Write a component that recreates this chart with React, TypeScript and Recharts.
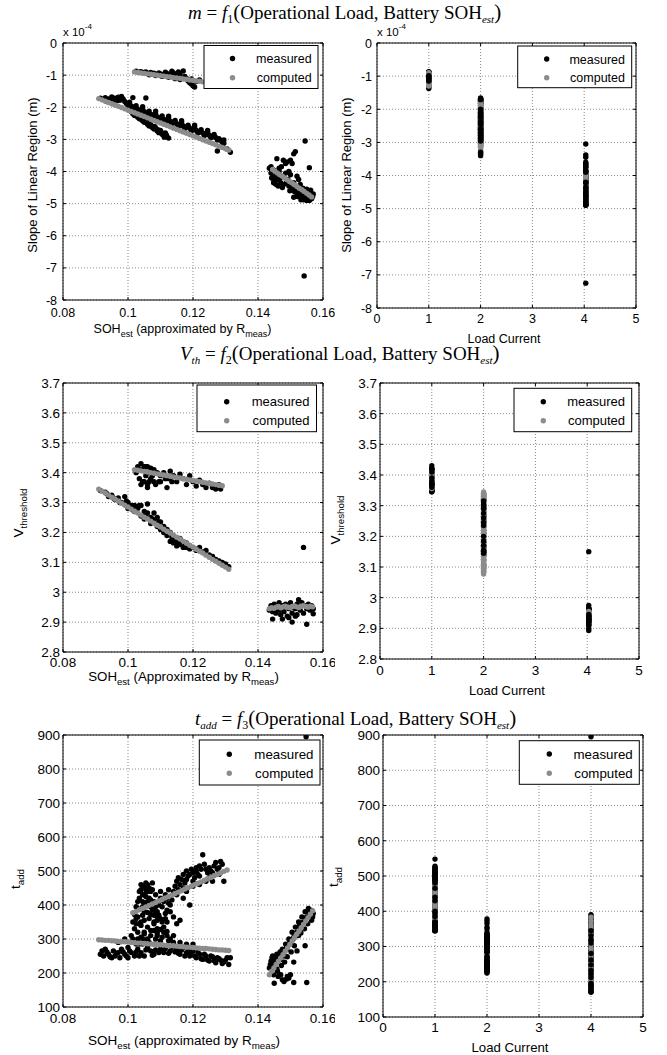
import React from "react";
import { CartesianGrid, ReferenceArea, Scatter, ScatterChart, XAxis, YAxis } from "recharts";

type Pt = [number, number];

const BLACK = "#000000";
const GRAY = "#8c8c8c";

// ---- shared axes ----
const sohTicks = [0.08, 0.1, 0.12, 0.14, 0.16];
const loadTicks = [0, 1, 2, 3, 4, 5];
const slopeTicks = [-8, -7, -6, -5, -4, -3, -2, -1, 0];
const vthTicks = [2.8, 2.9, 3, 3.1, 3.2, 3.3, 3.4, 3.5, 3.6, 3.7];
const taddTicks = [100, 200, 300, 400, 500, 600, 700, 800, 900];

// load current of each cluster (right column)
const loadsTop = [1, 2, 4.03];
const loadsBottom = [1, 2, 4];

// ---- row 1 : slope of linear region m (x 1e-4) vs SOH ----
const slopeMeas1: Pt[] = [
  [0.1025, -0.88], [0.1035, -0.91], [0.104, -0.89], [0.105, -0.92], [0.1055, -0.9], [0.106, -0.94],
  [0.107, -0.92], [0.1075, -0.96], [0.108, -0.94], [0.109, -0.97], [0.1095, -0.93], [0.11, -0.96],
  [0.111, -0.98], [0.1115, -0.91], [0.112, -0.95], [0.113, -0.99], [0.1135, -0.88], [0.114, -0.93],
  [0.115, -1.01], [0.1155, -0.9], [0.116, -0.97], [0.117, -0.87], [0.1175, -1.04], [0.118, -1.1],
  [0.1185, -1.18], [0.119, -1.24], [0.1195, -1.28], [0.12, -1.33], [0.1205, -1.37], [0.1195, -1.12],
  [0.121, -1.2], [0.122, -1.15], [0.1065, -0.99], [0.1085, -1.01], [0.1105, -1.04], [0.1125, -1.07],
  [0.1145, -1.11], [0.116, -1.14],
];
const slopeComp1: Pt[] = [
  [0.102, -0.9], [0.103, -0.92], [0.104, -0.93], [0.105, -0.95], [0.106, -0.96], [0.107, -0.97],
  [0.108, -0.99], [0.109, -1.0], [0.11, -1.02], [0.111, -1.03], [0.112, -1.05], [0.113, -1.06],
  [0.114, -1.08], [0.115, -1.09], [0.116, -1.1], [0.117, -1.12], [0.118, -1.13], [0.119, -1.15],
  [0.12, -1.16], [0.121, -1.18], [0.122, -1.19], [0.123, -1.21], [0.124, -1.22], [0.125, -1.24],
  [0.126, -1.25], [0.127, -1.27], [0.128, -1.28], [0.129, -1.3],
];
const slopeMeas2: Pt[] = [
  [0.0915, -1.72], [0.0925, -1.75], [0.093, -1.7], [0.094, -1.74], [0.095, -1.68], [0.0955, -1.76],
  [0.096, -1.72], [0.097, -1.69], [0.0975, -1.78], [0.098, -1.66], [0.0985, -1.74], [0.099, -1.82],
  [0.1, -1.9], [0.1005, -1.84], [0.101, -1.96], [0.102, -2.02], [0.1025, -1.95], [0.103, -2.06],
  [0.104, -2.1], [0.1045, -2.04], [0.105, -2.14], [0.106, -2.18], [0.1065, -2.12], [0.107, -2.22],
  [0.108, -2.25], [0.1085, -2.2], [0.109, -2.3], [0.11, -2.33], [0.1105, -2.27], [0.111, -2.37],
  [0.112, -2.4], [0.1125, -2.34], [0.113, -2.44], [0.114, -2.46], [0.1145, -2.41], [0.115, -2.51],
  [0.116, -2.54], [0.1165, -2.48], [0.117, -2.58], [0.118, -2.61], [0.1185, -2.56], [0.119, -2.65],
  [0.12, -2.68], [0.1205, -2.63], [0.121, -2.72], [0.122, -2.76], [0.1225, -2.7], [0.123, -2.8],
  [0.124, -2.83], [0.1245, -2.78], [0.125, -2.87], [0.126, -2.9], [0.1265, -2.85], [0.127, -2.94],
  [0.128, -2.98], [0.1285, -3.03], [0.129, -3.08], [0.1295, -3.02],
  [0.0935, -1.82], [0.0965, -1.8], [0.0995, -1.88], [0.1015, -2.0], [0.1035, -2.14], [0.1055, -2.24],
  [0.1075, -2.3], [0.1095, -2.38], [0.1115, -2.45], [0.1135, -2.52], [0.1155, -2.6], [0.1175, -2.66],
  [0.1195, -2.74], [0.1215, -2.8], [0.1235, -2.88], [0.1255, -2.95], [0.1275, -3.02], [0.1295, -3.12],
  [0.1045, -1.98], [0.1085, -2.12], [0.1125, -2.28], [0.1165, -2.42], [0.1205, -2.56], [0.1245, -2.72],
  [0.1005, -2.08], [0.101, -2.14], [0.1015, -2.2], [0.102, -2.26], [0.1025, -2.22], [0.103, -2.31],
  [0.1035, -2.36], [0.104, -2.32], [0.1045, -2.42], [0.105, -2.47], [0.1055, -2.43], [0.106, -2.53],
  [0.1065, -2.58], [0.107, -2.54], [0.1075, -2.63], [0.108, -2.68], [0.1085, -2.64], [0.109, -2.74],
  [0.1095, -2.79], [0.11, -2.72], [0.1105, -2.84], [0.111, -2.88], [0.1115, -2.8], [0.112, -2.92],
  [0.1125, -2.96], [0.1, -2.0], [0.1012, -2.1], [0.1022, -2.18], [0.1032, -2.26], [0.1042, -2.38],
  [0.1052, -2.38], [0.1062, -2.47], [0.1072, -2.6], [0.1082, -2.6], [0.1092, -2.7], [0.1102, -2.78],
  [0.1112, -2.93], [0.1118, -2.86],
  [0.1015, -1.7], [0.1055, -1.71], [0.1275, -3.36], [0.1315, -3.4], [0.1305, -3.3],
];
const slopeComp2: Pt[] = [
  [0.091, -1.73], [0.092, -1.77], [0.093, -1.81], [0.094, -1.85], [0.095, -1.89], [0.096, -1.93],
  [0.097, -1.97], [0.098, -2.01], [0.099, -2.05], [0.1, -2.09], [0.101, -2.13], [0.102, -2.17],
  [0.103, -2.21], [0.104, -2.25], [0.105, -2.29], [0.106, -2.33], [0.107, -2.37], [0.108, -2.41],
  [0.109, -2.45], [0.11, -2.49], [0.111, -2.53], [0.112, -2.57], [0.113, -2.61], [0.114, -2.65],
  [0.115, -2.69], [0.116, -2.73], [0.117, -2.77], [0.118, -2.81], [0.119, -2.85], [0.12, -2.89],
  [0.121, -2.93], [0.122, -2.97], [0.123, -3.01], [0.124, -3.05], [0.125, -3.09], [0.126, -3.13],
  [0.127, -3.17], [0.128, -3.21], [0.129, -3.25], [0.13, -3.29], [0.131, -3.33],
];
const slopeMeas4: Pt[] = [
  [0.1435, -3.9], [0.144, -4.05], [0.1442, -4.2], [0.1448, -3.95], [0.145, -4.3], [0.1455, -4.1],
  [0.1458, -3.6], [0.146, -4.25], [0.1465, -4.0], [0.147, -4.35], [0.1472, -3.85], [0.1478, -4.15],
  [0.148, -4.4], [0.1485, -3.75], [0.149, -3.7], [0.1492, -4.25], [0.1495, -4.45], [0.15, -3.65],
  [0.15, -4.1], [0.1505, -4.55], [0.151, -3.45], [0.151, -4.35], [0.1515, -3.38], [0.1515, -4.6],
  [0.152, -4.15], [0.152, -4.7], [0.1525, -4.5], [0.153, -4.75], [0.153, -4.4], [0.1535, -4.85],
  [0.154, -4.6], [0.154, -4.88], [0.1545, -4.7], [0.155, -4.9], [0.155, -4.55], [0.1555, -4.8],
  [0.156, -4.75], [0.156, -4.65], [0.1565, -4.85], [0.157, -4.7], [0.1545, -3.05], [0.1558, -3.88],
  [0.1542, -7.25], [0.1505, -3.75], [0.1485, -4.05], [0.1462, -4.45], [0.1448, -4.35], [0.1525, -4.25],
  [0.153, -4.6], [0.1538, -4.72], [0.1552, -4.68], [0.1562, -4.58], [0.1495, -4.0], [0.151, -4.8],
  [0.1478, -3.65], [0.1445, -4.18],
  [0.1505, -4.45], [0.1512, -4.62], [0.1518, -4.5], [0.1522, -4.78], [0.1528, -4.65], [0.1532, -4.88],
  [0.1538, -4.52], [0.1548, -4.82], [0.1553, -4.62], [0.1558, -4.9], [0.1563, -4.7], [0.1568, -4.78],
  [0.1455, -4.4], [0.1468, -4.2], [0.1475, -4.5], [0.1488, -4.35], [0.1498, -4.6], [0.144, -3.85],
  [0.1452, -4.22], [0.1465, -3.9],
];
const slopeComp4: Pt[] = [
  [0.1445, -3.94], [0.1452, -3.99], [0.146, -4.05], [0.1467, -4.1], [0.1475, -4.15], [0.1482, -4.2],
  [0.149, -4.26], [0.1497, -4.31], [0.1505, -4.36], [0.1512, -4.41], [0.152, -4.47], [0.1527, -4.52],
  [0.1535, -4.57], [0.1542, -4.62], [0.155, -4.68], [0.1557, -4.73], [0.1565, -4.79],
];

// ---- row 2 : V threshold vs SOH ----
const vthMeas1: Pt[] = [
  [0.1025, 3.4], [0.103, 3.42], [0.1035, 3.38], [0.104, 3.43], [0.104, 3.36], [0.1045, 3.41],
  [0.105, 3.42], [0.105, 3.37], [0.1055, 3.39], [0.106, 3.42], [0.106, 3.36], [0.1065, 3.4],
  [0.107, 3.415], [0.107, 3.38], [0.108, 3.41], [0.108, 3.37], [0.109, 3.4], [0.11, 3.39],
  [0.11, 3.37], [0.111, 3.4], [0.112, 3.35], [0.1125, 3.38], [0.113, 3.405], [0.114, 3.39],
  [0.115, 3.37], [0.116, 3.395], [0.117, 3.38], [0.118, 3.36], [0.119, 3.39], [0.12, 3.37],
  [0.121, 3.355], [0.122, 3.375], [0.123, 3.36], [0.124, 3.35], [0.125, 3.365], [0.126, 3.35],
  [0.127, 3.345], [0.128, 3.36], [0.1285, 3.345], [0.106, 3.35], [0.1085, 3.36],
  [0.1035, 3.41], [0.1045, 3.37], [0.1055, 3.42], [0.1065, 3.37], [0.1075, 3.39], [0.1095, 3.37],
  [0.1115, 3.38], [0.1135, 3.37],
];
const vthComp1: Pt[] = [
  [0.102, 3.41], [0.103, 3.408], [0.104, 3.406], [0.105, 3.404], [0.106, 3.402], [0.107, 3.4],
  [0.108, 3.398], [0.109, 3.396], [0.11, 3.394], [0.111, 3.392], [0.112, 3.39], [0.113, 3.388],
  [0.114, 3.386], [0.115, 3.384], [0.116, 3.382], [0.117, 3.38], [0.118, 3.378], [0.119, 3.376],
  [0.12, 3.374], [0.121, 3.372], [0.122, 3.37], [0.123, 3.368], [0.124, 3.366], [0.125, 3.364],
  [0.126, 3.362], [0.127, 3.36], [0.128, 3.358], [0.129, 3.356],
];
const vthMeas2: Pt[] = [
  [0.0915, 3.34], [0.093, 3.335], [0.094, 3.32], [0.095, 3.325], [0.096, 3.31], [0.097, 3.315],
  [0.098, 3.3], [0.099, 3.32], [0.1, 3.3], [0.1, 3.28], [0.101, 3.29], [0.102, 3.27],
  [0.102, 3.29], [0.103, 3.28], [0.104, 3.255], [0.104, 3.29], [0.105, 3.27], [0.105, 3.245],
  [0.106, 3.265], [0.106, 3.295], [0.107, 3.25], [0.107, 3.23], [0.108, 3.24], [0.108, 3.265],
  [0.109, 3.22], [0.109, 3.25], [0.11, 3.235], [0.11, 3.21], [0.111, 3.22], [0.111, 3.2],
  [0.112, 3.21], [0.112, 3.19], [0.113, 3.2], [0.113, 3.17], [0.114, 3.18], [0.114, 3.165],
  [0.115, 3.17], [0.115, 3.155], [0.116, 3.16], [0.116, 3.18], [0.117, 3.15], [0.118, 3.15],
  [0.118, 3.165], [0.119, 3.145], [0.12, 3.15], [0.121, 3.14], [0.122, 3.15], [0.123, 3.135],
  [0.124, 3.14], [0.125, 3.125], [0.126, 3.12], [0.127, 3.11], [0.128, 3.105], [0.129, 3.1],
  [0.13, 3.095], [0.131, 3.085],
  [0.0935, 3.33], [0.0955, 3.315], [0.0975, 3.3], [0.0995, 3.305], [0.1015, 3.275], [0.1035, 3.29],
  [0.1055, 3.26], [0.1075, 3.245], [0.1095, 3.235], [0.1115, 3.2], [0.1135, 3.185], [0.1155, 3.17],
  [0.1175, 3.155], [0.1195, 3.15], [0.1215, 3.145],
];
const vthComp2: Pt[] = [
  [0.091, 3.345], [0.092, 3.338], [0.093, 3.332], [0.094, 3.325], [0.095, 3.318], [0.096, 3.312],
  [0.097, 3.305], [0.098, 3.298], [0.099, 3.291], [0.1, 3.285], [0.101, 3.278], [0.102, 3.271],
  [0.103, 3.265], [0.104, 3.258], [0.105, 3.251], [0.106, 3.245], [0.107, 3.238], [0.108, 3.231],
  [0.109, 3.224], [0.11, 3.218], [0.111, 3.211], [0.112, 3.204], [0.113, 3.198], [0.114, 3.191],
  [0.115, 3.184], [0.116, 3.178], [0.117, 3.171], [0.118, 3.164], [0.119, 3.157], [0.12, 3.151],
  [0.121, 3.144], [0.122, 3.137], [0.123, 3.131], [0.124, 3.124], [0.125, 3.117], [0.126, 3.11],
  [0.127, 3.104], [0.128, 3.097], [0.129, 3.09], [0.13, 3.084], [0.131, 3.077],
];
const vthMeas4: Pt[] = [
  [0.1435, 2.94], [0.144, 2.955], [0.1445, 2.935], [0.145, 2.96], [0.1455, 2.93], [0.146, 2.945],
  [0.1465, 2.965], [0.147, 2.925], [0.1475, 2.955], [0.148, 2.935], [0.1485, 2.96], [0.149, 2.92],
  [0.1495, 2.945], [0.15, 2.965], [0.1505, 2.93], [0.151, 2.95], [0.1515, 2.92], [0.152, 2.96],
  [0.1525, 2.975], [0.153, 2.94], [0.1535, 2.965], [0.154, 2.93], [0.1545, 2.955], [0.155, 2.945],
  [0.1555, 2.96], [0.156, 2.94], [0.1565, 2.955], [0.157, 2.945], [0.1445, 2.91], [0.1475, 2.91],
  [0.1505, 2.9], [0.155, 2.893], [0.157, 2.928], [0.154, 3.15], [0.1495, 2.915], [0.152, 2.925],
  [0.1465, 2.94], [0.1515, 2.945],
];
const vthComp4: Pt[] = [
  [0.1435, 2.945], [0.1442, 2.948], [0.1449, 2.946], [0.1456, 2.95], [0.1463, 2.952], [0.147, 2.948],
  [0.1477, 2.951], [0.1484, 2.953], [0.1491, 2.95], [0.1498, 2.948], [0.1505, 2.952], [0.1512, 2.954],
  [0.1519, 2.951], [0.1526, 2.949], [0.1533, 2.953], [0.154, 2.955], [0.1547, 2.952], [0.1554, 2.95],
  [0.1561, 2.953], [0.1568, 2.951],
];

// ---- row 3 : t_add vs SOH ----
const taddMeas1: Pt[] = [
  [0.1025, 360], [0.103, 390], [0.1035, 420], [0.104, 445], [0.1045, 430], [0.105, 455],
  [0.1055, 465], [0.106, 460], [0.1065, 450], [0.107, 440], [0.1075, 465], [0.104, 350],
  [0.105, 380], [0.106, 410], [0.107, 395], [0.108, 370], [0.108, 345], [0.109, 380],
  [0.11, 360], [0.112, 350], [0.1105, 395], [0.111, 410], [0.112, 420], [0.113, 400],
  [0.114, 440], [0.115, 430], [0.116, 460], [0.117, 450], [0.118, 475], [0.119, 490],
  [0.12, 470], [0.121, 500], [0.122, 485], [0.123, 548], [0.1235, 520], [0.124, 505],
  [0.125, 480], [0.126, 495], [0.127, 525], [0.128, 510], [0.129, 520], [0.1295, 470],
  [0.115, 345], [0.116, 355], [0.119, 400], [0.113, 380], [0.114, 365], [0.117, 420],
  [0.118, 440], [0.12, 455], [0.122, 460], [0.124, 470], [0.11, 420], [0.1085, 430],
  [0.1125, 445], [0.1155, 480], [0.118, 500], [0.121, 510], [0.1035, 345], [0.1045, 395],
  [0.1055, 425], [0.1065, 400], [0.1095, 400], [0.1115, 375], [0.125, 510], [0.126, 470],
  [0.128, 490],
  [0.1015, 350], [0.102, 372], [0.1025, 395], [0.103, 410], [0.1035, 440], [0.104, 460],
  [0.1045, 410], [0.105, 430], [0.1055, 445], [0.106, 440], [0.1065, 420], [0.107, 415],
  [0.1075, 445], [0.108, 390], [0.108, 410], [0.1085, 375], [0.109, 355], [0.1095, 370],
  [0.1105, 350], [0.1115, 360], [0.112, 385], [0.1125, 405], [0.113, 425], [0.1135, 415],
  [0.1145, 455], [0.115, 470], [0.1155, 445], [0.1165, 475], [0.117, 490], [0.1175, 465],
  [0.1185, 485], [0.1195, 505], [0.12, 495], [0.1205, 480], [0.1215, 490], [0.122, 515],
  [0.1225, 505], [0.1245, 495], [0.1255, 500], [0.1275, 505], [0.1285, 528], [0.1265, 515],
  [0.1025, 345], [0.1045, 370], [0.1065, 360], [0.1085, 395], [0.1055, 400], [0.103, 365],
  [0.1075, 385], [0.11, 440], [0.1115, 430],
];
const taddComp1: Pt[] = [
  [0.1015, 377], [0.1025, 381], [0.1035, 386], [0.1045, 390], [0.1055, 394], [0.1065, 399],
  [0.1075, 403], [0.1085, 407], [0.1095, 412], [0.1105, 416], [0.1115, 421], [0.1125, 425],
  [0.1135, 429], [0.1145, 434], [0.1155, 438], [0.1165, 442], [0.1175, 447], [0.1185, 451],
  [0.1195, 455], [0.1205, 460], [0.1215, 464], [0.1225, 468], [0.1235, 473], [0.1245, 477],
  [0.1255, 481], [0.1265, 486], [0.1275, 490], [0.1285, 494], [0.1295, 499], [0.1305, 503],
];
const taddMeas2: Pt[] = [
  [0.092, 265], [0.0925, 250], [0.093, 270], [0.094, 255], [0.095, 245], [0.0955, 265],
  [0.096, 250], [0.097, 260], [0.0975, 245], [0.098, 270], [0.099, 255], [0.1, 245],
  [0.1, 275], [0.101, 260], [0.1015, 290], [0.102, 250], [0.103, 270], [0.103, 300],
  [0.104, 260], [0.1045, 285], [0.105, 250], [0.106, 275], [0.106, 300], [0.107, 265],
  [0.108, 285], [0.108, 255], [0.109, 310], [0.11, 270], [0.11, 295], [0.111, 260],
  [0.112, 280], [0.112, 310], [0.113, 265], [0.114, 290], [0.115, 270], [0.116, 255],
  [0.117, 275], [0.118, 260], [0.119, 250], [0.12, 265], [0.121, 245], [0.122, 255],
  [0.123, 240], [0.124, 250], [0.125, 235], [0.126, 248], [0.127, 230], [0.128, 242],
  [0.129, 228], [0.13, 238], [0.131, 225], [0.1315, 245], [0.097, 290], [0.099, 300],
  [0.101, 310], [0.105, 320], [0.107, 325], [0.109, 330], [0.111, 320], [0.113, 300],
  [0.114, 310], [0.116, 290], [0.118, 285], [0.12, 285], [0.1015, 300], [0.102, 330],
  [0.103, 320], [0.104, 305], [0.105, 315], [0.106, 335], [0.107, 310], [0.108, 325],
  [0.109, 318], [0.11, 328], [0.111, 335], [0.112, 322], [0.104, 340], [0.105, 355],
  [0.107, 372], [0.109, 365], [0.106, 378], [0.108, 350],
  [0.0915, 255], [0.0935, 262], [0.0945, 248], [0.0965, 258], [0.0985, 262], [0.0995, 250],
  [0.1005, 265], [0.1025, 262], [0.1035, 250], [0.1055, 268], [0.1075, 252], [0.1085, 268],
  [0.1095, 260], [0.1115, 272], [0.1125, 258], [0.1135, 275], [0.1145, 262], [0.1155, 258],
  [0.1165, 268], [0.1175, 250], [0.1185, 272], [0.1195, 262], [0.1205, 250], [0.1215, 262],
  [0.1225, 242], [0.1235, 255], [0.1245, 238], [0.1255, 250], [0.1265, 236], [0.1275, 245],
  [0.1285, 238], [0.1295, 232], [0.1305, 245], [0.1025, 285], [0.1045, 300], [0.1065, 290],
  [0.1085, 300], [0.1105, 305], [0.1125, 295], [0.1055, 295], [0.1035, 285], [0.1095, 285],
];
const taddComp2: Pt[] = [
  [0.091, 298], [0.092, 297], [0.093, 296], [0.094, 296], [0.095, 295], [0.096, 294],
  [0.097, 293], [0.098, 292], [0.099, 292], [0.1, 291], [0.101, 290], [0.102, 289],
  [0.103, 288], [0.104, 288], [0.105, 287], [0.106, 286], [0.107, 285], [0.108, 284],
  [0.109, 284], [0.11, 283], [0.111, 282], [0.112, 281], [0.113, 280], [0.114, 280],
  [0.115, 279], [0.116, 278], [0.117, 277], [0.118, 276], [0.119, 276], [0.12, 275],
  [0.121, 274], [0.122, 273], [0.123, 272], [0.124, 272], [0.125, 271], [0.126, 270],
  [0.127, 269], [0.128, 268], [0.129, 268], [0.13, 267], [0.131, 266],
];
const taddMeas4: Pt[] = [
  [0.1435, 215], [0.144, 235], [0.1445, 250], [0.145, 225], [0.1455, 245], [0.146, 205],
  [0.1465, 255], [0.147, 240], [0.1475, 270], [0.148, 250], [0.1485, 285], [0.149, 270],
  [0.1495, 300], [0.15, 285], [0.1505, 320], [0.151, 305], [0.1515, 335], [0.152, 320],
  [0.1525, 350], [0.153, 335], [0.1535, 365], [0.154, 350], [0.1545, 380], [0.155, 365],
  [0.1555, 390], [0.156, 370], [0.1565, 355], [0.157, 375], [0.145, 170], [0.147, 195],
  [0.148, 175], [0.149, 190], [0.1495, 185], [0.15, 195], [0.151, 172], [0.155, 172],
  [0.1545, 280], [0.151, 232], [0.152, 265], [0.1548, 895],
  [0.1438, 225], [0.1443, 245], [0.1452, 238], [0.1458, 255], [0.1468, 262], [0.1478, 258],
  [0.1488, 275], [0.1498, 292], [0.1508, 300], [0.1518, 318], [0.1528, 340], [0.1538, 348],
  [0.1548, 362], [0.1558, 378], [0.1563, 385], [0.1568, 365], [0.1458, 212], [0.1472, 222],
  [0.1482, 232], [0.149, 248], [0.1502, 262], [0.1512, 280], [0.1525, 310], [0.1532, 318],
  [0.1543, 330], [0.1553, 345], [0.1448, 195], [0.1462, 190], [0.1475, 180], [0.1488, 182],
];
const taddComp4: Pt[] = [
  [0.1435, 195], [0.1442, 205], [0.1449, 215], [0.1456, 225], [0.1463, 235], [0.147, 244],
  [0.1477, 254], [0.1484, 264], [0.1491, 274], [0.1498, 284], [0.1505, 294], [0.1512, 304],
  [0.1519, 314], [0.1526, 323], [0.1533, 333], [0.154, 343], [0.1547, 353], [0.1554, 363],
  [0.1561, 373], [0.1568, 383],
];

type Datum = { x: number; y: number; c: string };

const bySoh = (pts: Pt[], c: string): Datum[] => pts.map(([x, y]) => ({ x, y, c }));

// right column: same samples against load current; computed drawn after most of
// the measured samples so both stay visible
function byLoad(meas: Pt[][], comp: Pt[][], loads: number[]): Datum[] {
  const out: Datum[] = [];
  loads.forEach((load, k) => {
    const m = meas[k];
    const cut = Math.ceil(m.length * 0.8);
    m.slice(0, cut).forEach((p) => out.push({ x: load, y: p[1], c: BLACK }));
    comp[k].forEach((p) => out.push({ x: load, y: p[1], c: GRAY }));
    m.slice(cut).forEach((p) => out.push({ x: load, y: p[1], c: BLACK }));
  });
  return out;
}

const SERIF = '"Liberation Serif", "Times New Roman", serif';
const SANS = '"Liberation Sans", Arial, sans-serif';

function XTick(props: any) {
  const { x, y, payload, ph, font, gap } = props;
  return (
    <g>
      <line x1={x} x2={x} y1={y} y2={y - 3} stroke="#000" />
      <line x1={x} x2={x} y1={y - ph} y2={y - ph + 3} stroke="#000" />
      <text x={x} y={y + gap} dy="0.71em" textAnchor="middle" fontSize={font} fontFamily={SANS} fill="#000">
        {String(payload.value)}
      </text>
    </g>
  );
}

function YTick(props: any) {
  const { x, y, payload, pw, font, gap } = props;
  return (
    <g>
      <line x1={x} x2={x + 3} y1={y} y2={y} stroke="#000" />
      <line x1={x + pw} x2={x + pw - 3} y1={y} y2={y} stroke="#000" />
      <text x={x - gap} y={y} dy="0.36em" textAnchor="end" fontSize={font} fontFamily={SANS} fill="#000">
        {String(payload.value)}
      </text>
    </g>
  );
}

const dot = (p: any) => <circle cx={p.cx} cy={p.cy} r={2.7} fill={p.payload?.c ?? p.c ?? BLACK} />;

interface PanelCfg {
  left: number;
  top: number;
  width: number;
  height: number;
  x0: number;
  y0: number;
  x1: number;
  y1: number;
  xDomain: [number, number];
  xTicks: number[];
  yDomain: [number, number];
  yTicks: number[];
  font: number;
  xGap: number;
  yGap: number;
}

function Panel({ cfg, series }: { cfg: PanelCfg; series: Datum[][] }) {
  const { left, top, width, height, x0, y0, x1, y1 } = cfg;
  const pw = x1 - x0;
  const ph = y1 - y0;
  return (
    <div style={{ position: "absolute", left, top, width, height }}>
      <ScatterChart
        width={width}
        height={height}
        margin={{ top: y0 - top, right: left + width - x1, bottom: 0, left: 0 }}
      >
        <CartesianGrid stroke="#8a8a8a" strokeDasharray="1 2" />
        <XAxis
          type="number"
          dataKey="x"
          domain={cfg.xDomain}
          ticks={cfg.xTicks}
          interval={0}
          height={top + height - y1}
          tickSize={0}
          tickMargin={0}
          axisLine={false}
          tickLine={false}
          allowDataOverflow
          tick={<XTick ph={ph} font={cfg.font} gap={cfg.xGap} />}
        />
        <YAxis
          type="number"
          dataKey="y"
          domain={cfg.yDomain}
          ticks={cfg.yTicks}
          interval={0}
          width={x0 - left}
          tickSize={0}
          tickMargin={0}
          axisLine={false}
          tickLine={false}
          allowDataOverflow
          tick={<YTick pw={pw} font={cfg.font} gap={cfg.yGap} />}
        />
        {series.map((data, i) => (
          <Scatter key={i} data={data} fill={BLACK} shape={dot} isAnimationActive={false} />
        ))}
        <ReferenceArea
          x1={cfg.xDomain[0]}
          x2={cfg.xDomain[1]}
          y1={cfg.yDomain[0]}
          y2={cfg.yDomain[1]}
          fill="none"
          fillOpacity={0}
          stroke="#000"
          strokeWidth={1}
          ifOverflow="visible"
        />
      </ScatterChart>
    </div>
  );
}

const panels: { cfg: PanelCfg; series: Datum[][] }[] = [
  {
    cfg: { left: 0, top: 20, width: 335, height: 330, x0: 63, y0: 43, x1: 323, y1: 300,
      xDomain: [0.08, 0.16], xTicks: sohTicks, yDomain: [-8, 0], yTicks: slopeTicks, font: 12.5, xGap: 8, yGap: 6 },
    series: [
      bySoh([...slopeMeas1, ...slopeMeas2, ...slopeMeas4], BLACK),
      bySoh([...slopeComp1, ...slopeComp2, ...slopeComp4], GRAY),
    ],
  },
  {
    cfg: { left: 335, top: 20, width: 332, height: 330, x0: 377, y0: 43, x1: 636, y1: 308,
      xDomain: [0, 5], xTicks: loadTicks, yDomain: [-8, 0], yTicks: slopeTicks, font: 12.5, xGap: 6, yGap: 5 },
    series: [byLoad([slopeMeas1, slopeMeas2, slopeMeas4], [slopeComp1, slopeComp2, slopeComp4], loadsTop)],
  },
  {
    cfg: { left: 0, top: 365, width: 335, height: 335, x0: 63, y0: 383, x1: 323, y1: 652,
      xDomain: [0.08, 0.16], xTicks: sohTicks, yDomain: [2.8, 3.7], yTicks: vthTicks, font: 13.5, xGap: 5, yGap: 3 },
    series: [
      bySoh([...vthMeas1, ...vthMeas2, ...vthMeas4], BLACK),
      bySoh([...vthComp1, ...vthComp2, ...vthComp4], GRAY),
    ],
  },
  {
    cfg: { left: 335, top: 365, width: 332, height: 335, x0: 380, y0: 383, x1: 639, y1: 659,
      xDomain: [0, 5], xTicks: loadTicks, yDomain: [2.8, 3.7], yTicks: vthTicks, font: 13.5, xGap: 6, yGap: 3 },
    series: [byLoad([vthMeas1, vthMeas2, vthMeas4], [vthComp1, vthComp2, vthComp4], loadsTop)],
  },
  {
    cfg: { left: 0, top: 725, width: 335, height: 330, x0: 63, y0: 735, x1: 323, y1: 1007,
      xDomain: [0.08, 0.16], xTicks: sohTicks, yDomain: [100, 900], yTicks: taddTicks, font: 13.5, xGap: 6, yGap: 3 },
    series: [
      bySoh([...taddMeas1, ...taddMeas2, ...taddMeas4], BLACK),
      bySoh([...taddComp1, ...taddComp2, ...taddComp4], GRAY),
    ],
  },
  {
    cfg: { left: 335, top: 725, width: 332, height: 330, x0: 383, y0: 735, x1: 643, y1: 1017,
      xDomain: [0, 5], xTicks: loadTicks, yDomain: [100, 900], yTicks: taddTicks, font: 13.5, xGap: 5, yGap: 3 },
    series: [byLoad([taddMeas1, taddMeas2, taddMeas4], [taddComp1, taddComp2, taddComp4], loadsBottom)],
  },
];

function Title({ x, y, n, lhs, shift }: { x: number; y: number; n: string; lhs: React.ReactNode; shift: number }) {
  return (
    <text x={x} y={y} fontFamily={SERIF} fontSize={19} fill="#000" style={{ whiteSpace: "pre" }}>
      {lhs}
      <tspan dy={-shift}>{" = "}</tspan>
      <tspan fontStyle="italic">f</tspan>
      <tspan fontSize={12} dy={4}>{n}</tspan>
      <tspan fontSize={21} dy={-4}>(</tspan>
      <tspan>Operational Load, Battery SOH</tspan>
      <tspan fontSize={11} fontStyle="italic" dy={4}>est</tspan>
      <tspan fontSize={21} dy={-4}>)</tspan>
    </text>
  );
}

function LegendBox({ x, y, w, h, dx, r1, r2, tx, font }: any) {
  return (
    <g fontFamily={SANS} fontSize={font}>
      <rect x={x} y={y} width={w} height={h} fill="#fff" stroke="#000" strokeWidth={1} />
      <circle cx={dx} cy={r1} r={2.7} fill={BLACK} />
      <circle cx={dx} cy={r2} r={2.7} fill={GRAY} />
      <text x={tx} y={r1} dy="0.36em" textAnchor="end" fill="#000">measured</text>
      <text x={tx} y={r2} dy="0.36em" textAnchor="end" fill="#000">computed</text>
    </g>
  );
}

function SohLabel({ cx, y, font, word }: { cx: number; y: number; font: number; word: string }) {
  const sub = font * 0.72;
  return (
    <text x={cx} y={y} textAnchor="middle" fontFamily={SANS} fontSize={font} fill="#000" style={{ whiteSpace: "pre" }}>
      SOH
      <tspan fontSize={sub} dy={4}>est</tspan>
      <tspan dy={-4}>{` (${word} by R`}</tspan>
      <tspan fontSize={sub} dy={4}>meas</tspan>
      <tspan dy={-4}>)</tspan>
    </text>
  );
}

function RotLabel({ x, y, font, main, sub }: { x: number; y: number; font: number; main: string; sub?: string }) {
  return (
    <text x={x} y={y} transform={`rotate(-90 ${x} ${y})`} textAnchor="middle" fontFamily={SANS} fontSize={font} fill="#000">
      {main}
      {sub ? <tspan fontSize={font * 0.72} dy={4}>{sub}</tspan> : null}
    </text>
  );
}

function Exponent({ x, y }: { x: number; y: number }) {
  return (
    <text x={x} y={y} fontFamily={SANS} fontSize={11.5} fill="#000" style={{ whiteSpace: "pre" }}>
      {"x 10"}
      <tspan fontSize={8} dy={-7}>-4</tspan>
    </text>
  );
}

export default function App() {
  return (
    <div style={{ position: "absolute", left: 0, top: 0, width: 667, height: 1055, background: "#fff" }}>
      {panels.map((p, i) => (
        <Panel key={i} cfg={p.cfg} series={p.series} />
      ))}
      <svg width={667} height={1055} style={{ position: "absolute", left: 0, top: 0, pointerEvents: "none" }}>
        <Title x={188} y={19} n="1" lhs={<tspan fontStyle="italic">m</tspan>} shift={0} />
        <Title
          x={180}
          y={360}
          n="2"
          lhs={[
            <tspan key="a" fontStyle="italic">V</tspan>,
            <tspan key="b" fontStyle="italic" fontSize={11} dy={4}>th</tspan>,
          ]}
          shift={4}
        />
        <Title
          x={195}
          y={725}
          n="3"
          lhs={[
            <tspan key="a" fontStyle="italic">t</tspan>,
            <tspan key="b" fontStyle="italic" fontSize={11} dy={4}>add</tspan>,
          ]}
          shift={4}
        />

        <Exponent x={63} y={36} />
        <Exponent x={377} y={36} />

        <RotLabel x={37} y={175} font={13} main="Slope of Linear Region (m)" />
        <RotLabel x={350.5} y={175} font={13} main="Slope of Linear Region (m)" />
        <RotLabel x={23} y={513} font={13.5} main="V" sub="threshold" />
        <RotLabel x={340} y={520} font={13.5} main="V" sub="threshold" />
        <RotLabel x={20} y={879} font={13.5} main="t" sub="add" />
        <RotLabel x={338} y={877} font={13.5} main="t" sub="add" />

        <SohLabel cx={182.5} y={333} font={12.5} word="approximated" />
        <text x={504} y={343} textAnchor="middle" fontFamily={SANS} fontSize={12.5}>Load Current</text>
        <SohLabel cx={183.5} y={681} font={13.3} word="Approximated" />
        <text x={507} y={695} textAnchor="middle" fontFamily={SANS} fontSize={13}>Load Current</text>
        <SohLabel cx={184} y={1045} font={13.5} word="approximated" />
        <text x={510} y={1051.5} textAnchor="middle" fontFamily={SANS} fontSize={13.2}>Load Current</text>

        <LegendBox x={204} y={45.5} w={114} h={43} dx={232.5} r1={58.5} r2={77.7} tx={311.7} font={12.5} />
        <LegendBox x={517.7} y={46} w={114} h={41.7} dx={546.7} r1={59} r2={77.7} tx={625} font={12.5} />
        <LegendBox x={197} y={385} w={119.5} h={46.7} dx={226.7} r1={401.7} r2={420.7} tx={309.5} font={13} />
        <LegendBox x={514} y={388.3} w={117.7} h={43.4} dx={543.3} r1={401.7} r2={420.7} tx={625} font={13} />
        <LegendBox x={199.3} y={740} w={120.7} h={45} dx={229.3} r1={754.3} r2={773.3} tx={313.5} font={13.3} />
        <LegendBox x={519.3} y={740.7} w={120} h={43.6} dx={549.3} r1={754} r2={773.3} tx={632.7} font={13.3} />
      </svg>
    </div>
  );
}
